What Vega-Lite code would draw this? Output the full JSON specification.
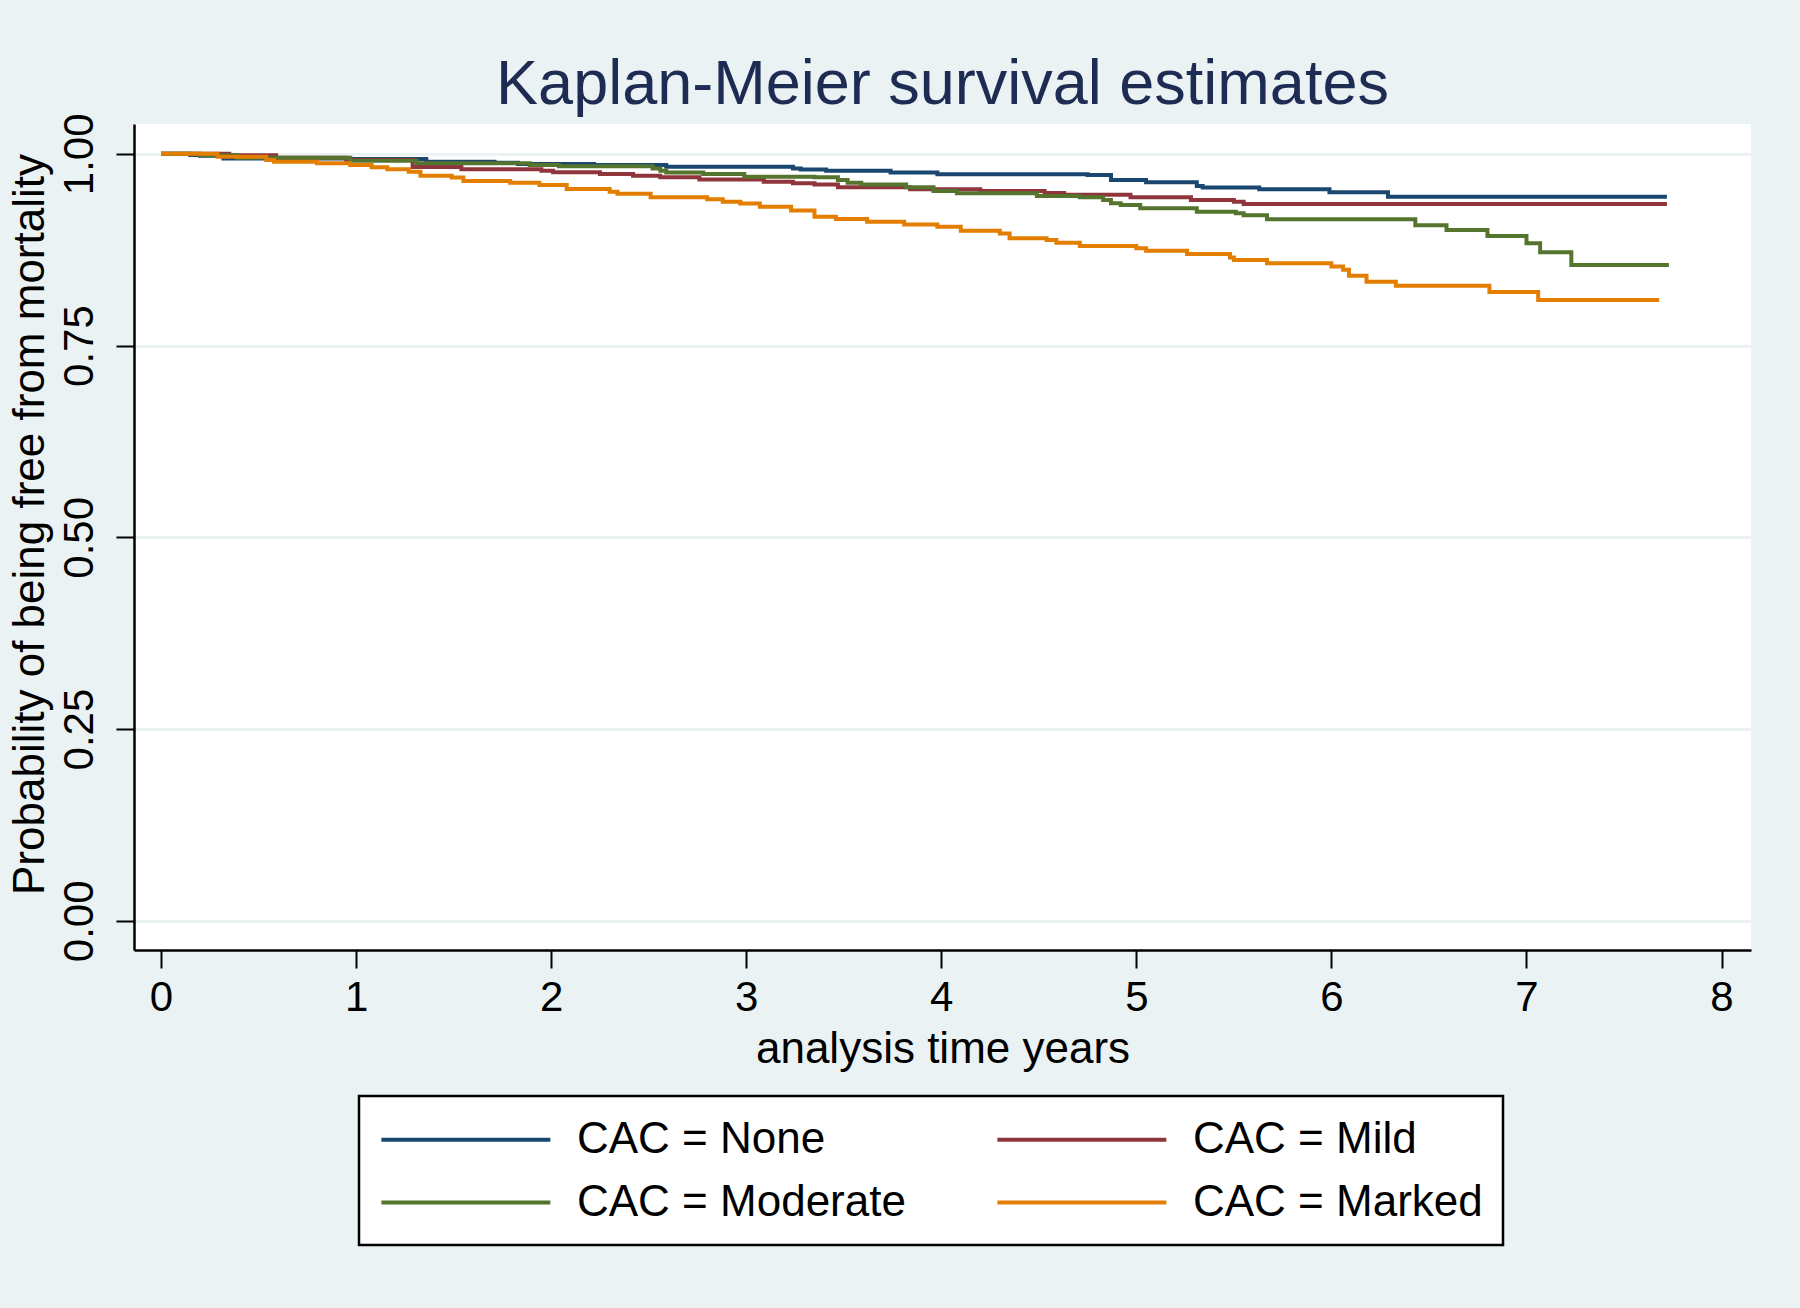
{
  "$schema": "https://vega.github.io/schema/vega-lite/v6.json",
  "width": 1617,
  "height": 826,
  "autosize": {"type": "none"},
  "padding": {"left": 134, "top": 124, "right": 49, "bottom": 358},
  "background": "#EAF2F3",
  "config": {"view": {"fill": "white", "stroke": null}, "font": "Liberation Sans"},
  "title": {"text": "Kaplan-Meier survival estimates", "fontSize": 63, "fontWeight": "normal", "color": "#1e2c54", "anchor": "middle", "frame": "group", "baseline": "alphabetic", "offset": -54},
  "datasets": {
    "km": [
      {"g": "CAC = None", "t": 0, "s": 1},
      {"g": "CAC = None", "t": 0.15, "s": 0.9985},
      {"g": "CAC = None", "t": 0.2, "s": 0.9975},
      {"g": "CAC = None", "t": 0.32, "s": 0.994},
      {"g": "CAC = None", "t": 0.97, "s": 0.9933},
      {"g": "CAC = None", "t": 1.36, "s": 0.9897},
      {"g": "CAC = None", "t": 1.71, "s": 0.9884},
      {"g": "CAC = None", "t": 1.83, "s": 0.9867},
      {"g": "CAC = None", "t": 2.22, "s": 0.9855},
      {"g": "CAC = None", "t": 2.59, "s": 0.9832},
      {"g": "CAC = None", "t": 3.24, "s": 0.981},
      {"g": "CAC = None", "t": 3.28, "s": 0.9797},
      {"g": "CAC = None", "t": 3.41, "s": 0.978},
      {"g": "CAC = None", "t": 3.74, "s": 0.9758},
      {"g": "CAC = None", "t": 3.98, "s": 0.9733},
      {"g": "CAC = None", "t": 4.75, "s": 0.9724},
      {"g": "CAC = None", "t": 4.87, "s": 0.9658},
      {"g": "CAC = None", "t": 5.05, "s": 0.9628},
      {"g": "CAC = None", "t": 5.31, "s": 0.958},
      {"g": "CAC = None", "t": 5.34, "s": 0.956},
      {"g": "CAC = None", "t": 5.63, "s": 0.9537},
      {"g": "CAC = None", "t": 5.99, "s": 0.9498},
      {"g": "CAC = None", "t": 6.29, "s": 0.944},
      {"g": "CAC = None", "t": 7.72, "s": 0.944},

      {"g": "CAC = Mild", "t": 0, "s": 1},
      {"g": "CAC = Mild", "t": 0.35, "s": 0.998},
      {"g": "CAC = Mild", "t": 0.59, "s": 0.995},
      {"g": "CAC = Mild", "t": 0.95, "s": 0.992},
      {"g": "CAC = Mild", "t": 1.29, "s": 0.983},
      {"g": "CAC = Mild", "t": 1.54, "s": 0.98},
      {"g": "CAC = Mild", "t": 1.95, "s": 0.978},
      {"g": "CAC = Mild", "t": 2.01, "s": 0.9759},
      {"g": "CAC = Mild", "t": 2.25, "s": 0.9737},
      {"g": "CAC = Mild", "t": 2.42, "s": 0.9715},
      {"g": "CAC = Mild", "t": 2.56, "s": 0.9694},
      {"g": "CAC = Mild", "t": 2.76, "s": 0.9667},
      {"g": "CAC = Mild", "t": 3.09, "s": 0.9636},
      {"g": "CAC = Mild", "t": 3.24, "s": 0.9615},
      {"g": "CAC = Mild", "t": 3.35, "s": 0.96},
      {"g": "CAC = Mild", "t": 3.47, "s": 0.9563},
      {"g": "CAC = Mild", "t": 3.84, "s": 0.9537},
      {"g": "CAC = Mild", "t": 4.2, "s": 0.9515},
      {"g": "CAC = Mild", "t": 4.53, "s": 0.949},
      {"g": "CAC = Mild", "t": 4.63, "s": 0.9465},
      {"g": "CAC = Mild", "t": 4.97, "s": 0.9433},
      {"g": "CAC = Mild", "t": 5.28, "s": 0.9398},
      {"g": "CAC = Mild", "t": 5.5, "s": 0.9376},
      {"g": "CAC = Mild", "t": 5.55, "s": 0.9346},
      {"g": "CAC = Mild", "t": 7.72, "s": 0.9346},

      {"g": "CAC = Moderate", "t": 0, "s": 1},
      {"g": "CAC = Moderate", "t": 0.2, "s": 0.998},
      {"g": "CAC = Moderate", "t": 0.39, "s": 0.995},
      {"g": "CAC = Moderate", "t": 0.97, "s": 0.991},
      {"g": "CAC = Moderate", "t": 1.31, "s": 0.9876},
      {"g": "CAC = Moderate", "t": 1.89, "s": 0.9854},
      {"g": "CAC = Moderate", "t": 2.04, "s": 0.9837},
      {"g": "CAC = Moderate", "t": 2.52, "s": 0.981},
      {"g": "CAC = Moderate", "t": 2.56, "s": 0.978},
      {"g": "CAC = Moderate", "t": 2.59, "s": 0.9758},
      {"g": "CAC = Moderate", "t": 2.78, "s": 0.9737},
      {"g": "CAC = Moderate", "t": 2.99, "s": 0.9702},
      {"g": "CAC = Moderate", "t": 3.35, "s": 0.9694},
      {"g": "CAC = Moderate", "t": 3.47, "s": 0.9658},
      {"g": "CAC = Moderate", "t": 3.52, "s": 0.9624},
      {"g": "CAC = Moderate", "t": 3.59, "s": 0.96},
      {"g": "CAC = Moderate", "t": 3.82, "s": 0.9563},
      {"g": "CAC = Moderate", "t": 3.96, "s": 0.9515},
      {"g": "CAC = Moderate", "t": 4.08, "s": 0.9485},
      {"g": "CAC = Moderate", "t": 4.49, "s": 0.945},
      {"g": "CAC = Moderate", "t": 4.71, "s": 0.9433},
      {"g": "CAC = Moderate", "t": 4.83, "s": 0.9398},
      {"g": "CAC = Moderate", "t": 4.87, "s": 0.9355},
      {"g": "CAC = Moderate", "t": 4.92, "s": 0.9333},
      {"g": "CAC = Moderate", "t": 5.02, "s": 0.929},
      {"g": "CAC = Moderate", "t": 5.31, "s": 0.9246},
      {"g": "CAC = Moderate", "t": 5.51, "s": 0.9224},
      {"g": "CAC = Moderate", "t": 5.55, "s": 0.92},
      {"g": "CAC = Moderate", "t": 5.67, "s": 0.9146},
      {"g": "CAC = Moderate", "t": 6.43, "s": 0.907},
      {"g": "CAC = Moderate", "t": 6.59, "s": 0.9007},
      {"g": "CAC = Moderate", "t": 6.8, "s": 0.893},
      {"g": "CAC = Moderate", "t": 7.0, "s": 0.8833},
      {"g": "CAC = Moderate", "t": 7.07, "s": 0.8716},
      {"g": "CAC = Moderate", "t": 7.23, "s": 0.855},
      {"g": "CAC = Moderate", "t": 7.73, "s": 0.855},

      {"g": "CAC = Marked", "t": 0, "s": 1},
      {"g": "CAC = Marked", "t": 0.29, "s": 0.9962},
      {"g": "CAC = Marked", "t": 0.54, "s": 0.992},
      {"g": "CAC = Marked", "t": 0.58, "s": 0.9897},
      {"g": "CAC = Marked", "t": 0.8, "s": 0.9876},
      {"g": "CAC = Marked", "t": 0.97, "s": 0.9854},
      {"g": "CAC = Marked", "t": 1.08, "s": 0.9824},
      {"g": "CAC = Marked", "t": 1.16, "s": 0.98},
      {"g": "CAC = Marked", "t": 1.27, "s": 0.9767},
      {"g": "CAC = Marked", "t": 1.33, "s": 0.9715},
      {"g": "CAC = Marked", "t": 1.49, "s": 0.969},
      {"g": "CAC = Marked", "t": 1.55, "s": 0.9646},
      {"g": "CAC = Marked", "t": 1.79, "s": 0.9624},
      {"g": "CAC = Marked", "t": 1.94, "s": 0.9593},
      {"g": "CAC = Marked", "t": 2.08, "s": 0.954},
      {"g": "CAC = Marked", "t": 2.3, "s": 0.9506},
      {"g": "CAC = Marked", "t": 2.34, "s": 0.948},
      {"g": "CAC = Marked", "t": 2.51, "s": 0.9433},
      {"g": "CAC = Marked", "t": 2.8, "s": 0.9407},
      {"g": "CAC = Marked", "t": 2.88, "s": 0.9376},
      {"g": "CAC = Marked", "t": 2.97, "s": 0.9354},
      {"g": "CAC = Marked", "t": 3.07, "s": 0.931},
      {"g": "CAC = Marked", "t": 3.23, "s": 0.926},
      {"g": "CAC = Marked", "t": 3.35, "s": 0.918},
      {"g": "CAC = Marked", "t": 3.46, "s": 0.915},
      {"g": "CAC = Marked", "t": 3.62, "s": 0.9115},
      {"g": "CAC = Marked", "t": 3.81, "s": 0.9078},
      {"g": "CAC = Marked", "t": 3.98, "s": 0.9048},
      {"g": "CAC = Marked", "t": 4.1, "s": 0.8997},
      {"g": "CAC = Marked", "t": 4.3, "s": 0.8963},
      {"g": "CAC = Marked", "t": 4.35, "s": 0.89},
      {"g": "CAC = Marked", "t": 4.54, "s": 0.8876},
      {"g": "CAC = Marked", "t": 4.59, "s": 0.8842},
      {"g": "CAC = Marked", "t": 4.71, "s": 0.8798},
      {"g": "CAC = Marked", "t": 5.0, "s": 0.8768},
      {"g": "CAC = Marked", "t": 5.05, "s": 0.8738},
      {"g": "CAC = Marked", "t": 5.26, "s": 0.8694},
      {"g": "CAC = Marked", "t": 5.48, "s": 0.865},
      {"g": "CAC = Marked", "t": 5.5, "s": 0.8616},
      {"g": "CAC = Marked", "t": 5.67, "s": 0.8572},
      {"g": "CAC = Marked", "t": 6.0, "s": 0.853},
      {"g": "CAC = Marked", "t": 6.06, "s": 0.849},
      {"g": "CAC = Marked", "t": 6.09, "s": 0.841},
      {"g": "CAC = Marked", "t": 6.18, "s": 0.8333},
      {"g": "CAC = Marked", "t": 6.33, "s": 0.828},
      {"g": "CAC = Marked", "t": 6.81, "s": 0.82},
      {"g": "CAC = Marked", "t": 7.06, "s": 0.8094},
      {"g": "CAC = Marked", "t": 7.68, "s": 0.8094}
    ]
  },
  "data": {"name": "km"},
  "mark": {"type": "line", "interpolate": "step-after", "strokeWidth": 4},
  "encoding": {
    "x": {
      "field": "t", "type": "quantitative",
      "scale": {"domain": [-0.1384, 8.151], "nice": false, "zero": false},
      "axis": {
        "values": [0, 1, 2, 3, 4, 5, 6, 7, 8],
        "format": "d",
        "grid": false,
        "domainColor": "black", "domainWidth": 2.5,
        "tickColor": "black", "tickWidth": 2, "tickSize": 18,
        "labelFontSize": 42, "labelColor": "black", "labelBaseline": "alphabetic", "labelPadding": 42, "labelFlush": false,
        "title": "analysis time years", "titleFontSize": 44, "titleFontWeight": "normal", "titleColor": "black",
        "titleBaseline": "alphabetic", "titleAlign": "center", "titleX": 808.5, "titleY": 112
      }
    },
    "y": {
      "field": "s", "type": "quantitative",
      "scale": {"domain": [-0.038, 1.0389], "nice": false, "zero": false},
      "axis": {
        "values": [0, 0.25, 0.5, 0.75, 1],
        "format": ".2f",
        "grid": true, "gridColor": "#EAF2F3", "gridWidth": 3,
        "domainColor": "black", "domainWidth": 2.5,
        "tickColor": "black", "tickWidth": 2, "tickSize": 18,
        "labelFontSize": 42, "labelColor": "black", "labelAngle": 270, "labelAlign": "center", "labelBaseline": "alphabetic", "labelPadding": 24,
        "title": "Probability of being free from mortality", "titleFontSize": 44, "titleFontWeight": "normal", "titleColor": "black",
        "titleAngle": 270, "titleBaseline": "alphabetic", "titleAlign": "center", "titleX": -91, "titleY": 400
      }
    },
    "color": {
      "field": "g", "type": "nominal",
      "scale": {"domain": ["CAC = None", "CAC = Mild", "CAC = Moderate", "CAC = Marked"], "range": ["#1A476F", "#90353B", "#55752F", "#E37E00"]},
      "legend": {
        "title": null, "orient": "none", "legendX": 225, "legendY": 972,
        "direction": "horizontal", "columns": 2,
        "symbolType": "M-1,0L7,0", "symbolSize": 1785, "symbolStrokeWidth": 4,
        "labelFontSize": 44, "labelColor": "black", "labelOffset": 151, "labelLimit": 600,
        "columnPadding": 83, "rowPadding": 17, "padding": 20,
        "strokeColor": "black", "fillColor": "white",
        "encode": {"legend": {"update": {"strokeWidth": {"value": 2.5}}}}
      }
    }
  }
}
